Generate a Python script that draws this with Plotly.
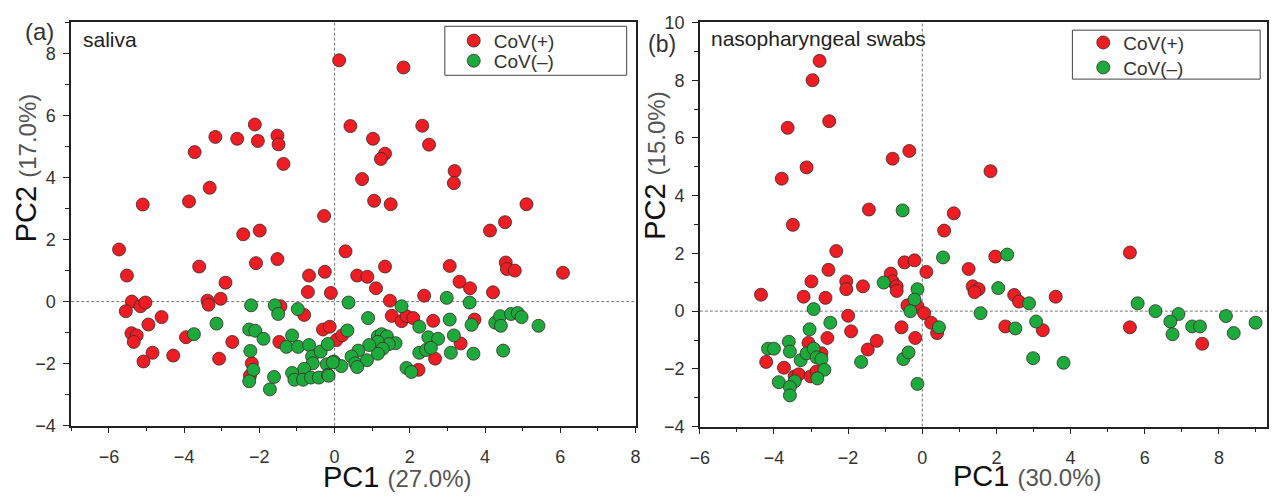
import plotly.graph_objects as go

# ---------------- data ----------------
# (a) saliva
sal_pos_x = [0.12, 1.83, -2.12, -3.17, -2.59, -2.04, -1.52, -1.49, -1.36, -3.72, -3.32, -3.87, -5.10, -0.28,
             -2.43, -1.99, -5.73, 0.42, 2.33, 1.02, 2.51, 1.34, 1.23, 0.73, 3.19, 3.17, 1.05, 1.49, 5.10, 4.53,
             4.13, 0.29, -5.52, -5.39, -5.55, -5.16, -5.03, -4.95, -4.60, -5.40, -5.26, -5.34, -4.84, -5.08,
             -4.29, -3.60, -3.95, -3.38, -3.35, -3.03, -2.90, -3.07, -2.72, -2.09, -1.52, -1.44, -1.47, -0.81,
             -0.68, -0.26, -0.71, -0.10, -0.31, -0.13, -2.20, -2.25, 0.05, 0.60, 0.87, 1.34, 1.10, 1.47, 2.38,
             3.06, 3.32, 3.60, 4.21, 4.55, 4.58, 4.79, 6.07, 1.52, 1.78, 1.91, 2.09, 2.62, 3.72, 0.20, 3.35,
             2.67, 2.23]
sal_pos_y = [7.78, 7.55, 5.71, 5.31, 5.25, 5.18, 5.35, 5.07, 4.44, 4.82, 3.67, 3.23, 3.13, 2.76,
             2.17, 2.29, 1.68, 5.66, 5.67, 5.25, 5.06, 4.77, 4.60, 3.95, 4.21, 3.82, 3.25, 3.14, 3.14, 2.56,
             2.29, 1.62, 0.84, 0.00, -0.31, -0.15, -0.03, -0.74, -0.50, -1.02, -1.09, -1.30, -1.65, -1.93,
             -1.74, 1.13, -1.15, 0.03, -0.10, 0.09, 0.61, -1.84, -1.30, 1.24, 1.37, -0.15, -1.30, -0.43,
             0.84, 0.96, 0.31, 0.28, -0.90, -0.81, -1.99, -2.39, -1.24, 0.84, 0.80, 1.13, 0.43, 0.03, 0.19,
             1.15, 0.64, 0.43, 0.30, 1.26, 1.05, 1.00, 0.93, -0.46, -0.63, -0.47, -0.53, -0.62, -0.58, -1.09, -1.35,
             -1.84, -2.20]
sal_neg_x = [-3.74, -3.14, -2.22, -1.59, -1.50, -0.98, -2.27, -2.11, -1.89, -2.24, -2.16, -2.27, -1.61, -1.72,
             -1.28, -1.13, -0.97, -0.68, -0.60, -0.58, -0.37, -0.18, -0.21, -0.81, -1.13, -1.07, -0.84, -0.63,
             -0.42, -0.18, -0.02, 0.37, 1.78, 2.98, 3.59, 0.89, 2.25, 3.06, 3.64, 0.34, 2.49, 2.75, 3.17, 4.27,
             4.40, 4.42, 4.69, 4.87, 4.97, 5.42, 4.48, 3.69, 3.09, 2.25, 2.43, 2.56, 1.91, 2.04, 1.15, 1.25,
             1.39, 1.62, 1.44, 1.15, 1.28, 1.15, 0.92, 0.63, 0.45, 0.55, 0.86, 0.60, 0.18, -0.05, -0.16]
sal_neg_y = [-1.05, -0.71, -0.12, -0.12, -0.40, -0.24, -0.90, -0.94, -1.20, -1.59, -2.20, -2.57, -2.43, -2.83,
             -1.46, -1.09, -1.46, -1.40, -1.77, -1.99, -1.61, -1.37, -2.02, -2.17, -2.30, -2.52, -2.52, -2.45,
             -2.45, -2.36, -1.93, -0.03, -0.15, 0.12, -0.03, -0.53, -0.81, -0.58, -0.75, -0.93, -1.15, -1.20, -1.09, -0.68,
             -0.47, -0.78, -0.40, -0.37, -0.50, -0.78, -1.58, -1.68, -1.65, -1.65, -1.56, -1.49, -2.14, -2.27, -1.12, -1.05,
             -1.12, -1.34, -1.37, -1.30, -1.52, -1.68, -1.40, -1.58, -1.77, -1.99, -1.89, -2.11, -2.08, -1.96, -2.39]

# (b) nasopharyngeal swabs
naso_pos_x = [-2.77, -2.96, -2.51, -3.63, -3.12, -3.79, -0.80, -0.35, -1.44, -3.49, 0.59, 0.85, -2.32, 1.84, 5.60,
              -4.35, -4.21, -3.73, -3.44, -3.33, -3.20, -2.99, -3.07, -3.01, -2.85, -2.72, -2.61, -2.53, -2.56,
              -2.05, -2.05, -2.00, -1.92, -1.60, -1.47, -1.23, -0.85, -0.80, -0.69, -0.69, -0.48, -0.21, 0.11,
              -0.40, -0.13, 0.05, -0.56, -0.19, 0.24, 0.40, 1.97, 1.25, 1.36, 1.52, 1.41, 2.48, 2.61, 3.60, 2.24,
              3.25, 5.60, 7.55]
naso_pos_y = [8.67, 8.00, 6.58, 6.35, 4.98, 4.59, 5.28, 5.55, 3.52, 2.99, 2.79, 3.39, 2.08, 4.85, 2.03,
              0.57, -1.76, -1.96, -2.26, -2.19, 0.50, 1.03, -1.10, -2.26, -2.09, -1.46, 0.46, 1.43, -0.93,
              1.03, 0.76, -0.16, -0.70, 0.86, -1.33, -1.03, 1.30, 1.03, 0.86, 0.70, 1.69, 1.76, 1.36,
              0.20, 0.17, -0.07, -0.56, -0.93, -0.40, -0.76, 1.89, 1.46, 0.86, 0.76, 0.66, 0.56, 0.33, 0.50, -0.53,
              -0.66, -0.56, -1.13]
naso_neg_x = [-0.53, 0.56, -1.04, -0.13, -0.21, -0.32, 0.45, -2.93, -2.48, -3.04, -4.16, -4.00, -3.60, -3.57,
              -3.28, -3.12, -2.93, -2.85, -2.72, -2.64, -2.83, -3.87, -3.44, -3.57, -3.57, -1.65, -0.51, -0.37,
              -0.13, 2.29, 2.05, 1.57, 2.88, 2.51, 3.07, 2.99, 3.81, 5.81, 6.29, 6.91, 6.69, 6.75, 7.28, 7.49,
              8.19, 8.40, 8.99]
naso_neg_y = [3.49, 1.86, 0.99, 0.76, 0.40, 0.00, -0.56, 0.07, -0.40, -0.63, -1.30, -1.30, -1.06, -1.40,
              -1.70, -1.46, -1.30, -1.60, -1.66, -2.03, -2.33, -2.46, -2.43, -2.63, -2.92, -1.76, -1.66, -1.43,
              -2.52, 1.96, 0.80, -0.07, 0.27, -0.60, -0.36, -1.63, -1.79, 0.27, 0.00, -0.10, -0.36, -0.80, -0.53, -0.53,
              -0.17, -0.76, -0.40]

series_names = ["CoV(+)", "CoV(\u2013)"]
panel_titles = ["saliva", "nasopharyngeal swabs"]
x_titles = ["27.0%", "30.0%"]
y_titles = ["17.0%", "15.0%"]

RED = "#EE1D24"
GREEN = "#1CAA3C"
FONT = "Liberation Sans, Arial, sans-serif"
W, H = 1279, 499


def px(x):
    return x / W


def py(y):
    return 1 - y / H


def marker(c):
    return dict(color=c, size=13, line=dict(color="#3a2a2a", width=0.8))


fig = go.Figure()
fig.add_trace(go.Scatter(x=sal_pos_x, y=sal_pos_y, mode="markers", name=series_names[0],
                         marker=marker(RED), xaxis="x", yaxis="y", legend="legend"))
fig.add_trace(go.Scatter(x=sal_neg_x, y=sal_neg_y, mode="markers", name=series_names[1],
                         marker=marker(GREEN), xaxis="x", yaxis="y", legend="legend2"))
fig.add_trace(go.Scatter(x=naso_pos_x, y=naso_pos_y, mode="markers", name=series_names[0],
                         marker=marker(RED), xaxis="x2", yaxis="y2", legend="legend3"))
fig.add_trace(go.Scatter(x=naso_neg_x, y=naso_neg_y, mode="markers", name=series_names[1],
                         marker=marker(GREEN), xaxis="x2", yaxis="y2", legend="legend4"))

axis_common = dict(showline=True, mirror=True, linecolor="#222", linewidth=1.6,
                   ticks="outside", ticklen=6, tickwidth=1.4, tickcolor="#222",
                   showgrid=False, zeroline=False,
                   tickfont=dict(family=FONT, size=18, color="#333"),
                   minor=dict(ticks="outside", ticklen=4, tickwidth=1.2, tickcolor="#222", dtick=1, tick0=0))
x_common = dict(ticklabelstandoff=8, **axis_common)
y_common = dict(ticklabelstandoff=4, **axis_common)


def leg(xp, yp):
    return dict(x=px(xp), y=py(yp), xanchor="left", yanchor="middle", bgcolor="rgba(0,0,0,0)",
                borderwidth=0, font=dict(family=FONT, size=19, color="#333"))


fig.update_layout(
    width=W, height=H,
    margin=dict(l=0, r=0, t=0, b=0),
    paper_bgcolor="white", plot_bgcolor="white",
    font=dict(family=FONT, color="#333"),
    xaxis=dict(domain=[px(62), px(633)], range=[-7, 8], tick0=0, dtick=2, anchor="y", **x_common),
    yaxis=dict(domain=[py(433), py(13)], range=[-4, 9], tick0=0, dtick=2, anchor="x", **y_common),
    xaxis2=dict(domain=[px(698), px(1272)], range=[-6, 9.3], tick0=0, dtick=2, anchor="y2", **x_common),
    yaxis2=dict(domain=[py(434), py(13)], range=[-4, 10], tick0=0, dtick=2, anchor="x2", **y_common),
    legend=leg(449, 32),
    legend2=leg(449, 53),
    legend3=leg(1086, 34),
    legend4=leg(1086, 60),
    showlegend=True,
)

shapes = []
for xa, ya in (("x", "y"), ("x2", "y2")):
    shapes.append(dict(type="line", xref=xa, yref=ya + " domain", x0=0, x1=0, y0=0, y1=1,
                       line=dict(color="#777", width=1, dash="3px,2px"), layer="below"))
    shapes.append(dict(type="line", xref=xa + " domain", yref=ya, x0=0, x1=1, y0=0, y1=0,
                       line=dict(color="#777", width=1, dash="3px,2px"), layer="below"))
# legend frames
shapes.append(dict(type="rect", xref="paper", yref="paper", x0=px(440), x1=px(624), y0=py(68), y1=py(17),
                   line=dict(color="#444", width=1)))
shapes.append(dict(type="rect", xref="paper", yref="paper", x0=px(1075), x1=px(1265), y0=py(72), y1=py(21),
                   line=dict(color="#444", width=1)))
fig.update_layout(shapes=shapes)


def a(text, x, y, size, color, xanchor="center", angle=0):
    return dict(text=text, x=px(x), y=py(y), xref="paper", yref="paper", showarrow=False,
                xanchor=xanchor, yanchor="middle", textangle=angle,
                font=dict(family=FONT, size=size, color=color))


ann = [
    a("(a)", 30, 22, 24, "#333"),
    a("(b)", 660, 35, 23, "#333"),
    a(panel_titles[0], 72, 31, 21, "#222", xanchor="left"),
    a(panel_titles[1], 707, 30, 21, "#222", xanchor="left"),
]
for cx, cy, t in ((392, 486, x_titles[0]), (1030, 485, x_titles[1])):
    ann.append(a("PC1 <span style='font-size:24px;color:#555'>(" + t + ")</span>", cx, cy, 29, "#111"))
for cx, cy, t in ((17, 164, y_titles[0]), (652, 162, y_titles[1])):
    ann.append(a("PC2 <span style='font-size:24px;color:#555'>(" + t + ")</span>", cx, cy, 29, "#111",
                 angle=-90))
fig.update_layout(annotations=ann)

fig.write_html("out.html")
